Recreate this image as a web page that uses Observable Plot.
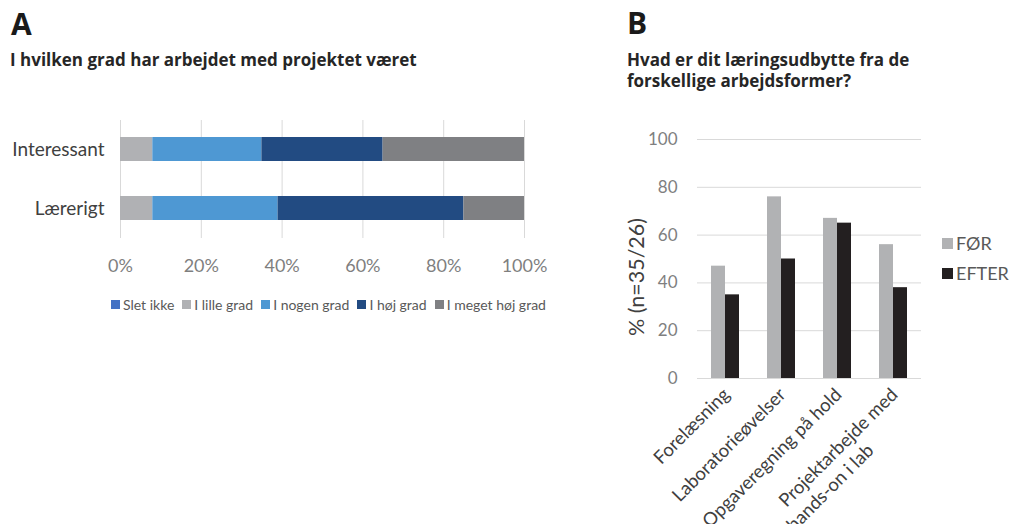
<!DOCTYPE html>
<html>
<head>
<meta charset="utf-8">
<script src="https://cdn.jsdelivr.net/npm/d3@7"></script>
<script src="https://cdn.jsdelivr.net/npm/@observablehq/plot@0.6"></script>
<style>
  html, body { margin: 0; padding: 0; background: #fff; }
  #root { position: relative; width: 1016px; height: 524px; overflow: hidden; font-family: Lato, sans-serif; }
  .abs { position: absolute; white-space: nowrap; }
  .panel { font-family: "Open Sans", sans-serif; font-weight: 700; font-size: 30px; line-height: 30px; color: #1a1a1a; }
  .sub { font-family: "Open Sans", sans-serif; font-weight: 700; font-size: 17px; line-height: 21px; color: #262626; }
  .leg { display: flex; align-items: center; font-family: Lato, sans-serif; }
  .leg .sw { display: inline-block; }
</style>
</head>
<body>
<div id="root">
  <div class="abs panel" style="left:11px; top:9px;">A</div>
  <div class="abs sub" style="left:10px; top:49px;">I hvilken grad har arbejdet med projektet været</div>
  <div class="abs panel" style="left:627px; top:8px;">B</div>
  <div class="abs sub" style="left:627px; top:49px;">Hvad er dit læringsudbytte fra de<br>forskellige arbejdsformer?</div>
  <div id="plotA" class="abs" style="left:0px; top:100px;"></div>
  <div id="legA" class="abs leg" style="left:111px; top:296px; gap:8px; font-size:14px; color:#595959;"></div>
  <div id="plotB" class="abs" style="left:600px; top:120px;"></div>
  <div id="ylabB" class="abs" style="left:636px; top:277px; transform:translate(-50%,-50%) rotate(-90deg); font-size:21.5px; color:#404040;">% (n=35/26)</div>
  <div id="legB" class="abs" style="left:942px; top:232px; font-size:18px; color:#595959;"></div>
</div>
<script>
// ---------- Panel A data ----------
const catsA = ["Interessant", "Lærerigt"];
const levelsA = ["Slet ikke", "I lille grad", "I nogen grad", "I høj grad", "I meget høj grad"];
const interessant = [0, 8, 27, 30, 35];
const laererigt = [0, 8, 31, 46, 15];
const colorsA = ["#4472c4", "#b0b1b4", "#4e98d3", "#224b82", "#7f8083"];
const ticksA = [0, 20, 40, 60, 80, 100];

// ---------- Panel B data ----------
const catsB = ["Forelæsning", "Laboratorieøvelser", "Opgaveregning på hold", "Projektarbejde med\nhands-on i lab"];
const seriesB = ["FØR", "EFTER"];
const foer = [47, 76, 67, 56];
const efter = [35, 50, 65, 38];
const colorsB = ["#b1b2b4", "#231f20"];
const ticksB = [0, 20, 40, 60, 80, 100];

// ---------- Panel A ----------
const rowsA = [];
[interessant, laererigt].forEach((vals, i) => {
  vals.forEach((v, j) => rowsA.push({cat: catsA[i], level: levelsA[j], value: v}));
});

const plotA = Plot.plot({
  width: 560,
  height: 190,
  marginLeft: 120,
  marginRight: 36,
  marginTop: 2,
  marginBottom: 34,
  style: {fontFamily: "Lato, sans-serif", background: "transparent"},
  x: {domain: [0, 100], axis: null},
  y: {domain: catsA, padding: 0.59, axis: null},
  color: {domain: levelsA, range: colorsA},
  marks: [
    Plot.ruleX(ticksA, {x: d => d, stroke: "#d9d9d9", strokeWidth: 1, insetTop: 18, insetBottom: 18}),
    Plot.barX(rowsA, Plot.stackX({x: "value", y: "cat", fill: "level", order: levelsA})),
    Plot.axisX(ticksA, {tickSize: 0, tickPadding: 3, fontSize: 18, color: "#7f7f7f", tickFormat: d => d + "%", label: null}),
    Plot.axisY({tickSize: 0, tickPadding: 16, fontSize: 19, color: "#404040", label: null})
  ]
});
document.getElementById("plotA").appendChild(plotA);

// Legend A
const legA = document.getElementById("legA");
levelsA.forEach((lv, i) => {
  const item = document.createElement("div");
  item.style.display = "flex";
  item.style.alignItems = "center";
  item.style.gap = "3px";
  const sw = document.createElement("span");
  sw.className = "sw";
  sw.style.width = "9px"; sw.style.height = "9px"; sw.style.background = colorsA[i];
  const tx = document.createElement("span");
  tx.textContent = lv;
  item.appendChild(sw); item.appendChild(tx);
  legA.appendChild(item);
});

// ---------- Panel B ----------
const rowsB = [];
catsB.forEach((c, i) => {
  rowsB.push({cat: c, series: seriesB[0], value: foer[i]});
  rowsB.push({cat: c, series: seriesB[1], value: efter[i]});
});

const plotB = Plot.plot({
  width: 340,
  height: 404,
  marginLeft: 97,
  marginRight: 19,
  marginTop: 19,
  marginBottom: 146,
  style: {fontFamily: "Lato, sans-serif", background: "transparent", overflow: "visible"},
  fx: {domain: catsB, padding: 0, axis: null, label: null},
  x: {domain: seriesB, paddingInner: 0, paddingOuter: 0.911, axis: null},
  y: {domain: [0, 100], axis: null},
  color: {domain: seriesB, range: colorsB},
  marks: [
    Plot.gridY(ticksB, {stroke: "#d9d9d9", strokeOpacity: 1, strokeWidth: 1}),
    Plot.barY(rowsB, {fx: "cat", x: "series", y: "value", fill: "series"}),
    Plot.axisY(ticksB, {tickSize: 0, tickPadding: 20, fontSize: 17, color: "#7f7f7f", label: null}),
    Plot.text(catsB, {fx: d => d, text: d => d.split("\n")[0], frameAnchor: "bottom", rotate: -45, textAnchor: "end", lineAnchor: "top", dx: -4, dy: 8, fontSize: 18.5, fill: "#404040"}),
    Plot.text(catsB.filter(d => d.includes("\n")), {fx: d => d, text: d => d.split("\n")[1], frameAnchor: "bottom", rotate: -45, textAnchor: "end", lineAnchor: "top", dx: -4 - 24, dy: 8 + 56, fontSize: 18.5, fill: "#404040"})
  ]
});
document.getElementById("plotB").appendChild(plotB);

// Legend B
const legB = document.getElementById("legB");
seriesB.forEach((s, i) => {
  const item = document.createElement("div");
  item.style.display = "flex";
  item.style.alignItems = "center";
  item.style.gap = "3px";
  item.style.height = "22px";
  item.style.marginBottom = "8px";
  const sw = document.createElement("span");
  sw.style.display = "inline-block";
  sw.style.width = "11px"; sw.style.height = "11px"; sw.style.background = colorsB[i];
  const tx = document.createElement("span");
  tx.textContent = s;
  item.appendChild(sw); item.appendChild(tx);
  legB.appendChild(item);
});
</script>
</body>
</html>
